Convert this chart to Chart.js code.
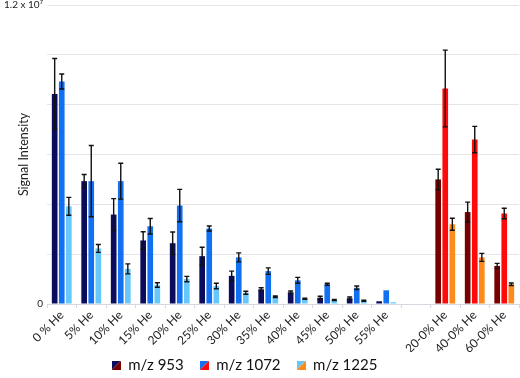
<!DOCTYPE html>
<html>
<head>
<meta charset="utf-8">
<script src="https://cdn.jsdelivr.net/npm/chart.js@4.4.0/dist/chart.umd.min.js"></script>
<style>
  html, body { margin: 0; padding: 0; background: #fff; }
  #wrap { width: 520px; height: 378px; }
</style>
</head>
<body>
<div id="wrap"><canvas id="chart"></canvas></div>
<script>
// categories (blank one is the gap between the two groups)
const labels = ['0 % He', '5% He', '10% He', '15% He', '20% He', '25% He', '30% He', '35% He',
  '40% He', '45% He', '50% He', '55% He', '', '20-0% He', '40-0% He', '60-0% He'];

// signal intensity, in millions
const mz953 = [8.43, 4.93, 3.59, 2.55, 2.44, 1.92, 1.13, 0.59, 0.47, 0.25, 0.23, 0.11, null, 5.0, 3.69, 1.53];
const err953 = [1.42, 0.27, 0.64, 0.35, 0.45, 0.36, 0.19, 0.06, 0.05, 0.06, 0.05, 0, null, 0.41, 0.4, 0.1];
const mz1072 = [8.93, 4.93, 4.93, 3.12, 3.95, 3.03, 1.87, 1.32, 0.95, 0.79, 0.65, 0.55, null, 8.65, 6.6, 3.63];
const err1072 = [0.3, 1.43, 0.72, 0.31, 0.65, 0.1, 0.18, 0.13, 0.12, 0.04, 0.07, 0, null, 1.54, 0.53, 0.21];
const mz1225 = [3.92, 2.23, 1.41, 0.76, 1.0, 0.72, 0.45, 0.29, 0.21, 0.16, 0.13, 0.07, null, 3.2, 1.87, 0.79];
const err1225 = [0.36, 0.16, 0.2, 0.09, 0.11, 0.11, 0.06, 0.03, 0.02, 0.02, 0.02, 0, null, 0.24, 0.16, 0.05];

const seriesNames = ['m/z 953', 'm/z 1072', 'm/z 1225'];
const heColors = ['#0c0c5c', '#1270f2', '#66c8fa'];
const mixColors = ['#7a0000', '#ff0a0a', '#ff8a1c'];

const M = 1e6;
const firstMix = 13;

function colorsFor(i) {
  return labels.map((l, k) => k >= firstMix ? mixColors[i] : heColors[i]);
}

// little split square for the legend
function splitBox(c1, c2) {
  const cv = document.createElement('canvas');
  cv.width = 9; cv.height = 9;
  const g = cv.getContext('2d');
  g.fillStyle = c1;
  g.beginPath(); g.moveTo(0, 0); g.lineTo(9, 0); g.lineTo(0, 9); g.closePath(); g.fill();
  g.fillStyle = c2;
  g.beginPath(); g.moveTo(9, 0); g.lineTo(9, 9); g.lineTo(0, 9); g.closePath(); g.fill();
  return cv;
}

const values = [mz953, mz1072, mz1225];
const errors = [err953, err1072, err1225];

const datasets = values.map((vals, i) => ({
  label: seriesNames[i],
  data: vals.map(v => v === null ? null : v * M),
  err: errors[i].map(e => e === null ? null : e * M),
  backgroundColor: colorsFor(i),
  borderWidth: 0,
  categoryPercentage: 0.72,
  barPercentage: 0.8,
  pointStyle: splitBox(heColors[i], mixColors[i])
}));

// draw error bars
const errorBars = {
  id: 'errorBars',
  afterDatasetsDraw(chart) {
    const ctx = chart.ctx;
    const y = chart.scales.y;
    ctx.save();
    ctx.strokeStyle = '#111';
    ctx.lineWidth = 1.4;
    chart.data.datasets.forEach((ds, di) => {
      const meta = chart.getDatasetMeta(di);
      meta.data.forEach((bar, k) => {
        const v = ds.data[k], e = ds.err[k];
        if (v === null || !e) return;
        const top = y.getPixelForValue(v + e);
        const bot = y.getPixelForValue(v - e);
        const x = bar.x;
        ctx.beginPath();
        ctx.moveTo(x, top); ctx.lineTo(x, bot);
        ctx.moveTo(x - 2.5, top); ctx.lineTo(x + 2.5, top);
        ctx.moveTo(x - 2.5, bot); ctx.lineTo(x + 2.5, bot);
        ctx.stroke();
      });
    });
    ctx.restore();
  }
};

// legend box kept short so the plot reaches down like the original,
// then its top raised (bottom kept) and moved left a little
const legendHeight = {
  id: 'legendHeight',
  beforeLayout(chart) {
    const lg = chart.legend;
    if (lg && !lg._patched) {
      const fit = lg.fit;
      lg.fit = function () { fit.call(this); this.height = 26; };
      lg._patched = true;
    }
  },
  afterLayout(chart) {
    const lg = chart.legend;
    if (lg) {
      lg.top -= 10;
      lg.height = lg.bottom - lg.top;
      lg.left -= 15;
      lg.right -= 15;
    }
  }
};

Chart.defaults.font.family = 'Lato, "Open Sans", sans-serif';
Chart.defaults.color = '#222';

new Chart(document.getElementById('chart'), {
  type: 'bar',
  data: { labels: labels, datasets: datasets },
  plugins: [errorBars, legendHeight],
  options: {
    responsive: true,
    maintainAspectRatio: false,
    animation: false,
    layout: { padding: { left: 0, right: 1, top: 0, bottom: 0 } },
    plugins: {
      tooltip: { enabled: false },
      legend: {
        position: 'bottom',
        labels: {
          usePointStyle: true,
          boxWidth: 9,
          boxHeight: 9,
          padding: 16,
          font: { size: 15 },
          color: '#111'
        }
      }
    },
    scales: {
      x: {
        afterFit(scale) { scale.height = 48; },
        grid: { drawOnChartArea: false, drawTicks: true, tickLength: 4, color: '#d8d8e0' },
        border: { color: '#d8d8e0' },
        ticks: { maxRotation: 45, minRotation: 45, autoSkip: false, font: { size: 12 }, padding: 0 }
      },
      y: {
        min: 0,
        max: 1.2e7,
        afterFit(scale) { scale.width = 47; scale.paddingTop = 5; scale.paddingBottom = 0; },
        grid: { color: '#e4e4ea', drawTicks: false },
        border: { display: false },
        ticks: {
          stepSize: 2e6,
          padding: 4,
          font: { size: 10 },
          callback: v => v === 0 ? '0' : (v === 1.2e7 ? '1.2 x 10\u2077' : '')
        },
        title: { display: true, text: 'Signal Intensity', font: { size: 12.5 }, padding: { top: 16, bottom: 0 } }
      }
    }
  }
});
</script>
</body>
</html>
